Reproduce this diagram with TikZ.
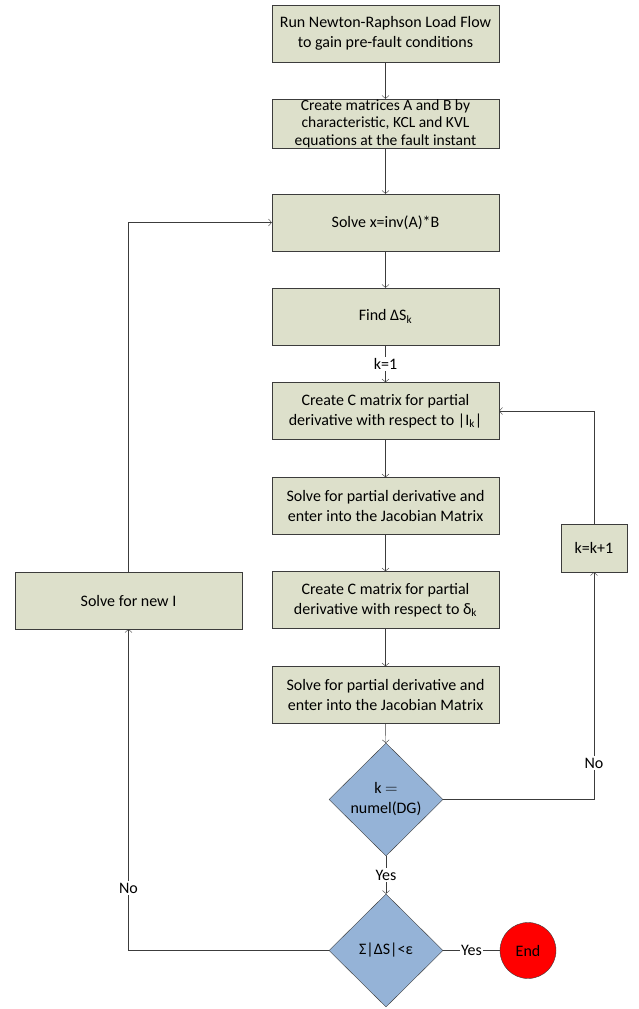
\documentclass[tikz,border=0pt]{standalone}
\usepackage{fontspec}
\setmainfont{Carlito}
\usepackage{tikz}
\usetikzlibrary{shapes.geometric,arrows.meta}

\definecolor{boxfill}{RGB}{221,224,203}
\definecolor{decfill}{RGB}{149,179,215}
\definecolor{linegray}{RGB}{60,60,60}

\tikzset{
  stepbox/.style={draw=linegray, fill=boxfill, thin, minimum width=227pt,
    minimum height=57pt, align=center, inner sep=0pt,
    font=\fontsize{16}{20}\selectfont},
  decision/.style={diamond, draw=linegray, fill=decfill, thin, minimum width=114pt,
    minimum height=113pt, inner sep=0pt, align=center,
    font=\fontsize{16}{20}\selectfont},
  flow/.style={draw=linegray, thin, -{Straight Barb[length=3pt,width=7pt]}},
  lbl/.style={fill=white, inner sep=1.5pt, font=\fontsize{16}{20}\selectfont}
}

\begin{document}
\begin{tikzpicture}[x=1pt,y=-1pt]
\useasboundingbox (0,0) rectangle (639,1009);

% Main column of steps
\node[stepbox] (loadflow) at (385.5,33.5) {Run Newton-Raphson Load Flow\\to gain pre-fault conditions};
\node[stepbox, minimum height=49pt, font=\fontsize{15.5}{17.5}\selectfont] (matAB) at (385.5,123.5) {Create matrices A and B by\\characteristic, KCL and KVL\\equations at the fault instant};
\node[stepbox] (solvex) at (385.5,222.5) {Solve x=inv(A)*B};
\node[stepbox] (findS) at (385.5,316.5) {Find ΔS\textsubscript{k}};
\node[stepbox] (cmatI) at (385.5,411) {Create C matrix for partial\\derivative with respect to |I\textsubscript{k}|};
\node[stepbox] (jacI) at (385.5,506) {Solve for partial derivative and\\enter into the Jacobian Matrix};
\node[stepbox] (cmatD) at (385.5,600) {Create C matrix for partial\\derivative with respect to δ\textsubscript{k}};
\node[stepbox] (jacD) at (385.5,695) {Solve for partial derivative and\\enter into the Jacobian Matrix};

% Decisions
\node[decision] (kcheck) at (386,799.5) {k $=$\\numel(DG)};
\node[decision] (conv) at (386,950.5) {Σ|ΔS|<ε};

% End
\node[circle, draw=linegray, fill=red, thin, minimum size=56pt, inner sep=0pt,
  font=\fontsize{16}{20}\selectfont] (stop) at (528,950.5) {End};

% Side boxes
\node[stepbox, minimum width=66pt, minimum height=48pt] (kinc) at (594,548) {k=k+1};
\node[stepbox] (newI) at (128.5,600.5) {Solve for new I};

% Connectors down the main column
\draw[flow] (loadflow) -- (matAB);
\draw[flow] (matAB) -- (solvex);
\draw[flow] (solvex) -- (findS);
\draw[flow] (findS) -- node[lbl] {k=1} (cmatI);
\draw[flow] (cmatI) -- (jacI);
\draw[flow] (jacI) -- (cmatD);
\draw[flow] (cmatD) -- (jacD);
\draw[flow] (jacD) -- (kcheck);
\draw[flow] (kcheck) -- node[lbl] {Yes} (conv);
\draw[draw=linegray, thin] (conv) -- node[lbl] {Yes} (stop);

% Inner loop over k
\draw[flow] (kcheck.east) -| node[lbl, pos=0.58] {No} (kinc.south);
\draw[flow] (kinc.north) |- (cmatI.east);

% Outer loop
\draw[flow] (conv.west) -| node[lbl, pos=0.597] {No} (newI.south);
\draw[flow] (newI.north) |- (solvex.west);

\end{tikzpicture}
\end{document}
